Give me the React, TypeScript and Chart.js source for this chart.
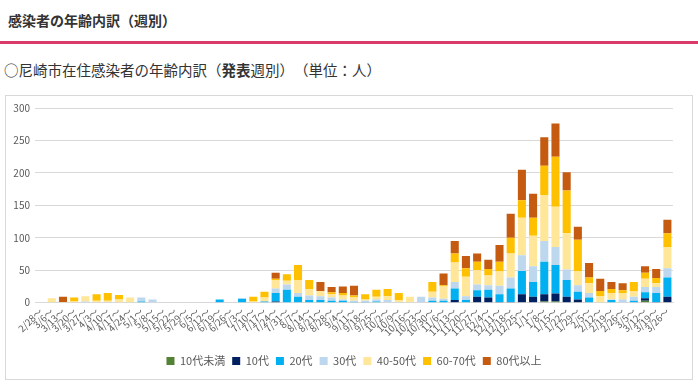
import React, { useEffect, useRef } from 'react';
import { Chart, registerables } from 'chart.js';

Chart.register(...registerables);

const weeks = [
  '2/28～', '3/6～', '3/13～', '3/20～', '3/27～', '4/3～', '4/10～', '4/17～', '4/24～', '5/1～',
  '5/8～', '5/15～', '5/22～', '5/29～', '6/5～', '6/12～', '6/19～', '6/26～', '7/3～', '7/10～',
  '7/17～', '7/24～', '7/31～', '8/7～', '8/14～', '8/21～', '8/28～', '9/4～', '9/11～', '9/18～',
  '9/25～', '10/2～', '10/9～', '10/16～', '10/23～', '10/30～', '11/6～', '11/13～', '11/20～', '11/27～',
  '12/4～', '12/11～', '12/18～', '12/25～', '1/1～', '1/8～', '1/15～', '1/22～', '1/29～', '2/5～',
  '2/12～', '2/19～', '2/26～', '3/5～', '3/12～', '3/19～', '3/26～',
];

const under10 = [
  0, 0, 0, 0, 0, 0, 0, 0, 0, 0,
  0, 0, 0, 0, 0, 0, 0, 0, 0, 0,
  0, 0, 0, 0, 0, 0, 0, 0, 0, 0,
  0, 0, 0, 0, 0, 0, 0, 0, 0, 0,
  0, 0, 0, 0, 0, 2, 2, 0, 0, 0,
  0, 0, 0, 0, 3, 0, 0,
];
const teens = [
  0, 0, 0, 0, 0, 0, 0, 0, 0, 0,
  0, 0, 0, 0, 0, 0, 0, 0, 0, 0,
  0, 2, 0, 0, 0, 0, 0, 0, 0, 0,
  0, 0, 0, 0, 0, 0, 0, 4, 0, 9,
  8, 1, 1, 13, 9, 11, 12, 9, 5, 0,
  0, 0, 0, 0, 4, 1, 9,
];
const twenties = [
  0, 0, 0, 0, 0, 0, 0, 0, 0, 2,
  0, 0, 0, 0, 0, 0, 5, 0, 6, 0,
  2, 13, 20, 9, 4, 4, 3, 3, 1, 1,
  2, 0, 0, 0, 0, 3, 3, 18, 4, 10,
  12, 12, 21, 36, 23, 50, 44, 26, 12, 8,
  0, 4, 0, 3, 9, 14, 30,
];
const thirties = [
  0, 0, 0, 0, 2, 0, 1, 0, 0, 6,
  5, 0, 0, 0, 0, 0, 0, 0, 1, 0,
  0, 7, 8, 6, 7, 6, 5, 2, 2, 2,
  3, 4, 1, 0, 9, 5, 3, 10, 6, 9,
  7, 13, 17, 24, 24, 32, 28, 16, 10, 7,
  0, 1, 5, 6, 8, 9, 14,
];
const fortiesFifties = [
  0, 7, 1, 2, 8, 3, 2, 5, 8, 0,
  0, 0, 0, 0, 0, 0, 0, 0, 0, 2,
  6, 13, 6, 20, 10, 8, 5, 6, 5, 2,
  4, 6, 3, 9, 0, 9, 19, 30, 30, 22,
  15, 22, 37, 58, 47, 71, 62, 56, 22, 15,
  10, 10, 10, 9, 13, 6, 33,
];
const sixtiesSeventies = [
  0, 0, 0, 6, 0, 10, 12, 7, 0, 0,
  0, 0, 0, 0, 0, 0, 0, 0, 0, 7,
  9, 2, 10, 23, 14, 0, 3, 4, 3, 8,
  11, 11, 11, 0, 0, 15, 2, 14, 13, 13,
  10, 15, 24, 27, 28, 45, 77, 66, 48, 9,
  8, 6, 4, 14, 9, 8, 21,
];
const eightiesPlus = [
  0, 0, 8, 0, 0, 0, 0, 0, 0, 0,
  0, 0, 0, 0, 0, 0, 0, 0, 0, 0,
  0, 9, 0, 0, 0, 14, 8, 10, 15, 0,
  0, 0, 0, 0, 0, 0, 18, 19, 19, 13,
  14, 26, 37, 47, 37, 44, 51, 28, 20, 22,
  19, 11, 11, 0, 10, 14, 21,
];

const seriesNames = ['10代未満', '10代', '20代', '30代', '40-50代', '60-70代', '80代以上'];
const seriesColors = ['#548235', '#002060', '#00b0f0', '#bdd7ee', '#ffe699', '#ffc000', '#c55a11'];
const seriesValues = [under10, teens, twenties, thirties, fortiesFifties, sixtiesSeventies, eightiesPlus];

const yTicksMax = 300;
const yTicksStep = 50;

const jpFont = "'Noto Sans CJK JP', sans-serif";

export default function App() {
  const ref = useRef<HTMLCanvasElement>(null);

  useEffect(() => {
    const chart = new Chart(ref.current as HTMLCanvasElement, {
      type: 'bar',
      data: {
        labels: weeks,
        datasets: seriesNames.map((name, i) => ({
          label: name,
          data: seriesValues[i],
          backgroundColor: seriesColors[i],
          borderWidth: 0,
          categoryPercentage: 1,
          barPercentage: 0.72,
        })),
      },
      options: {
        responsive: false,
        animation: false,
        layout: { padding: { left: 8, right: 25, top: 108, bottom: 9.5 } },
        plugins: {
          legend: {
            position: 'bottom',
            fullSize: false,
            labels: {
              boxWidth: 8,
              boxHeight: 8,
              padding: 7,
              color: '#595959',
              font: { size: 11, family: jpFont },
            },
          },
          tooltip: { enabled: false },
        },
        scales: {
          x: {
            stacked: true,
            grid: { display: false, drawTicks: false },
            border: { display: true, color: '#d9d9d9' },
            ticks: {
              autoSkip: false,
              maxRotation: 45,
              minRotation: 45,
              padding: 3,
              color: '#595959',
              font: { size: 9.5, family: jpFont },
            },
            afterFit: (s: any) => {
              s.height = 45.8;
            },
          },
          y: {
            stacked: true,
            min: 0,
            max: yTicksMax,
            ticks: {
              stepSize: yTicksStep,
              padding: 5,
              color: '#595959',
              font: { size: 10, family: jpFont },
            },
            grid: { color: '#d9d9d9', drawTicks: false },
            border: { display: false },
            afterFit: (s: any) => {
              s.width = 27;
            },
          },
        },
      },
    } as any);
    return () => chart.destroy();
  }, []);

  return (
    <div
      style={{
        position: 'absolute',
        left: 0,
        top: 0,
        width: 698,
        height: 386,
        background: '#ffffff',
        fontFamily: jpFont,
        color: '#333333',
        overflow: 'hidden',
      }}
    >
      <div
        style={{
          position: 'absolute',
          left: 8,
          top: 10,
          fontSize: 14,
          fontWeight: 700,
          lineHeight: '20px',
          whiteSpace: 'nowrap',
          textSpacingTrim: 'space-all',
        } as any}
      >
        感染者の年齢内訳（週別）
      </div>
      <div style={{ position: 'absolute', left: 0, top: 41, width: 698, height: 3, background: '#d93a6a' }} />
      <div
        style={{
          position: 'absolute',
          left: 4,
          top: 60,
          fontSize: 14.5,
          lineHeight: '20px',
          whiteSpace: 'nowrap',
          textSpacingTrim: 'space-all',
        } as any}
      >
        ○尼崎市在住感染者の年齢内訳（<b>発表</b>週別）（単位：人）
      </div>
      <div
        style={{
          position: 'absolute',
          left: 5,
          top: 95,
          width: 688,
          height: 285,
          border: '1px solid #d9d9d9',
          boxSizing: 'border-box',
        }}
      />
      <canvas ref={ref} width={698} height={386} style={{ position: 'absolute', left: 0, top: 0, width: 698, height: 386 }} />
    </div>
  );
}
